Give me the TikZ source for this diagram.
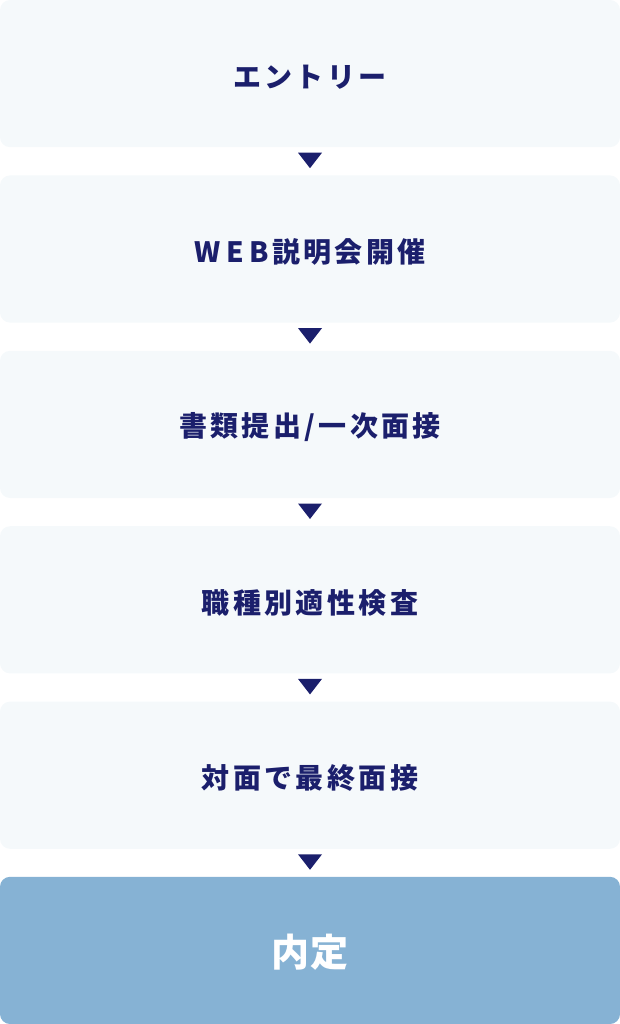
\documentclass[tikz,border=0pt]{standalone}
\usepackage{fontspec}
\newfontfamily\cjksp[LetterSpace=12]{Noto Sans CJK JP}
\newfontfamily\latinsp[LetterSpace=20]{Noto Sans CJK JP}
\newfontfamily\cjkfin[LetterSpace=4]{Noto Sans CJK JP}
\definecolor{stepbg}{HTML}{F5F9FB}
\definecolor{finalbg}{HTML}{86B2D4}
\definecolor{navy}{HTML}{1B1F6C}
\begin{document}
\begin{tikzpicture}[x=1pt,y=-1pt,
  stepbox/.style={fill=stepbg, draw=none, rounded corners=10pt, minimum width=620pt, minimum height=147.2pt, inner sep=0pt, outer sep=0pt},
  finalbox/.style={stepbox, fill=finalbg},
  steptext/.style={text=navy, inner sep=0pt, font=\cjksp\bfseries\fontsize{28}{28}\selectfont},
  finaltext/.style={text=white, inner sep=0pt, font=\cjkfin\bfseries\fontsize{38}{38}\selectfont},
  tri/.style={fill=navy}]
\useasboundingbox (0,0) rectangle (620,1024);
\node[stepbox] (s1) at (310,73.6) {};
\node[stepbox] (s2) at (310,249.0) {};
\node[stepbox] (s3) at (310,424.4) {};
\node[stepbox] (s4) at (310,599.8) {};
\node[stepbox] (s5) at (310,775.2) {};
\node[finalbox] (s6) at (310,950.4) {};
\node[steptext] (t1) at ([yshift=-3.5pt]s1.center) {エントリー};
\node[steptext] (t2) at ([yshift=-3pt]s2.center) {{\latinsp\bfseries WEB}\kern3pt説明会開催};
\node[steptext] (t3) at ([yshift=-3pt]s3.center) {書類提出/一次面接};
\node[steptext] (t4) at ([yshift=-3pt]s4.center) {職種別適性検査};
\node[steptext] (t5) at ([yshift=-3pt]s5.center) {対面で最終面接};
\node[finaltext] (t6) at ([yshift=-2pt]s6.center) {内定};
\foreach \i in {1,...,5}{
  \fill[tri] ([xshift=-12pt,yshift=-5.5pt]s\i.south) -- ([xshift=12pt,yshift=-5.5pt]s\i.south) -- ([yshift=-21pt]s\i.south) -- cycle;
}
\end{tikzpicture}
\end{document}
